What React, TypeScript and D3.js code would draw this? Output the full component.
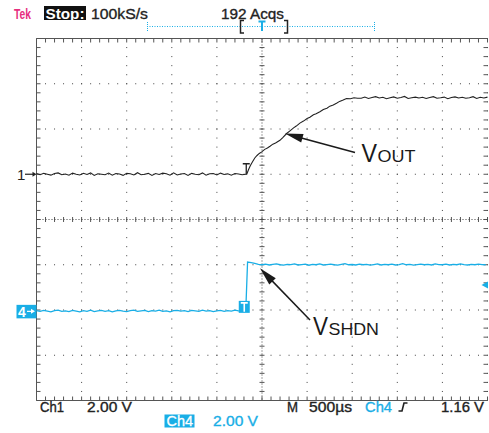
import React from "react";
import * as d3 from "d3";

// ---------- data (volts, µs) ----------
const timeDomain = [0, 5000]; // 10 div x 500 µs
const ch1Offset = 1.0; // divisions
const ch4Offset = -2.03;
const voltsPerDiv = 2;
const triggerLevel = 1.16;

// Ch1 baseline samples (step 40 µs, ending at 2320 µs)
const ch1Base = [
  0.03, -0.02, 0.04, 0.0, -0.04, 0.03, 0.06, -0.02, 0.01, -0.04,
  0.05, 0.0, -0.03, 0.04, -0.01, 0.06, -0.05, 0.02, 0.0, -0.02,
  0.05, -0.04, 0.03, 0.01, -0.05, 0.04, 0.02, -0.03, 0.07, -0.02,
  0.0, 0.04, -0.05, 0.03, -0.01, 0.05, 0.02, -0.04, 0.06, -0.03,
  0.01, 0.03, -0.05, 0.04, 0.0, -0.02, 0.06, -0.04, 0.02, 0.03,
  -0.03, 0.05, -0.01, 0.02, -0.04, 0.03, 0.01, -0.02, 0.0,
];
// Ch1 ramp points [µs, V]
const ch1Ramp: [number, number][] = [
  [2331, 0.0], [2350, 0.2], [2370, 0.38], [2395, 0.55], [2420, 0.72],
  [2445, 0.83], [2470, 0.92], [2497, 0.99], [2530, 1.1], [2560, 1.16],
  [2589, 1.24], [2620, 1.33], [2650, 1.38], [2699, 1.5], [2730, 1.62],
  [2773, 1.8], [2810, 1.92], [2850, 2.05], [2880, 2.13], [2920, 2.26],
  [2960, 2.35], [3000, 2.46], [3031, 2.52], [3070, 2.63], [3100, 2.67],
  [3142, 2.76], [3180, 2.86], [3220, 2.92], [3252, 3.01], [3290, 3.06],
  [3326, 3.14], [3360, 3.22], [3400, 3.28], [3437, 3.35], [3480, 3.34],
  [3520, 3.38], [3560, 3.36],
];
// Ch1 plateau samples (step 40 µs, starting at 3600 µs)
const ch1Top = [
  3.36, 3.41, 3.35, 3.39, 3.43, 3.37, 3.4, 3.34, 3.38, 3.42,
  3.36, 3.39, 3.44, 3.35, 3.38, 3.41, 3.37, 3.4, 3.35, 3.39,
  3.43, 3.36, 3.38, 3.41, 3.34, 3.39, 3.42, 3.37, 3.4, 3.36,
  3.38, 3.43, 3.35, 3.4, 3.37, 3.41,
];
// Ch4 low samples (step 40 µs, ending at 2320 µs)
const ch4Low = [
  0.03, 0.0, 0.04, 0.01, -0.02, 0.03, 0.05, 0.0, 0.02, -0.01,
  0.04, 0.01, -0.02, 0.03, 0.0, 0.05, -0.01, 0.02, 0.04, 0.0,
  0.03, -0.02, 0.02, 0.04, 0.01, -0.01, 0.03, 0.05, 0.0, 0.02,
  0.04, -0.01, 0.03, 0.01, 0.05, 0.0, 0.02, -0.02, 0.03, 0.04,
  0.01, 0.03, -0.01, 0.04, 0.02, 0.0, 0.05, 0.01, 0.03, -0.01,
  0.02, 0.04, 0.0, 0.03, 0.01, 0.05, 0.02, 0.0, 0.03,
];
// Ch4 high samples (step 40 µs, starting at 2340 µs)
const ch4High = [
  2.18, 2.15, 2.12, 2.08, 2.06, 2.09, 2.05, 2.08, 2.1, 2.06,
  2.04, 2.08, 2.07, 2.1, 2.05, 2.07, 2.09, 2.04, 2.08, 2.06,
  2.1, 2.05, 2.07, 2.09, 2.06, 2.04, 2.08, 2.11, 2.06, 2.07,
  2.05, 2.09, 2.06, 2.08, 2.04, 2.07, 2.1, 2.05, 2.08, 2.06,
  2.09, 2.05, 2.07, 2.11, 2.06, 2.08, 2.04, 2.07, 2.09, 2.06,
  2.08, 2.05, 2.1, 2.07, 2.06, 2.09, 2.05, 2.08, 2.06, 2.1,
  2.07, 2.05, 2.08, 2.06, 2.09, 2.07, 2.06,
];
const sampleStep = 40;
const ch1BaseEnd = 2320;
const ch1TopStart = 3600;
const ch4LowEnd = 2320;
const ch4HighStart = 2340;

// annotations anchored to data
const voutTip: [number, number] = [2755, 1.8];
const vshdnTip: [number, number] = [2478, 1.9];

const header = { tek: "Tek", stop: "Stop:", rate: "100kS/s", acqs: "192 Acqs" };
const footer1 = { ch1: "Ch1", ch1v: "2.00 V", m: "M", tb: "500µs", trigCh: "Ch4", trigV: "1.16 V" };
const footer2 = { ch4: "Ch4", ch4v: "2.00 V" };

const CYAN = "#19aee6";
const MAGENTA = "#e6307f";
const FONT = "'Liberation Sans', Arial, Helvetica, sans-serif";

export default function App() {
  const W = 489, H = 433;
  const left = 36.5, right = 487.5, top = 38.5, bottom = 400.5;
  const xdiv = d3.scaleLinear().domain([0, 10]).range([left, right]);
  const ydiv = d3.scaleLinear().domain([-4, 4]).range([bottom, top]);
  const x = d3.scaleLinear().domain(timeDomain).range([left, right]);
  const y1 = (v: number) => ydiv(ch1Offset + v / voltsPerDiv);
  const y4 = (v: number) => ydiv(ch4Offset + v / voltsPerDiv);

  const ch1Pts: [number, number][] = [
    ...ch1Base.map((v, i) => [ch1BaseEnd - (ch1Base.length - 1 - i) * sampleStep, v] as [number, number]),
    ...ch1Ramp,
    ...ch1Top.map((v, i) => [ch1TopStart + i * sampleStep, v] as [number, number]),
  ];
  const ch4Pts: [number, number][] = [
    ...ch4Low.map((v, i) => [ch4LowEnd - (ch4Low.length - 1 - i) * sampleStep, v] as [number, number]),
    ...ch4High.map((v, i) => [ch4HighStart + i * sampleStep, v] as [number, number]),
  ];
  const line1 = d3.line<[number, number]>().x((d) => x(d[0])).y((d) => y1(d[1]));
  const line4 = d3.line<[number, number]>().x((d) => x(d[0])).y((d) => y4(d[1]));

  const gridDot = "#444";
  const tickCol = "#555";

  const minorX = d3.range(0, 51).map((k) => xdiv(k / 5));
  const minorY = d3.range(0, 41).map((k) => ydiv(-4 + k / 5));
  const dots: JSX.Element[] = [];
  [1, 2, 3, 4, 6, 7, 8, 9].forEach((i) => {
    minorY.slice(1, -1).forEach((yy, k) =>
      dots.push(<rect key={`v${i}-${k}`} x={xdiv(i) - 0.5} y={yy - 0.5} width={1} height={1} fill={gridDot} />)
    );
  });
  [-3, -2, -1, 1, 2, 3].forEach((j) => {
    minorX.slice(1, -1).forEach((xx, k) =>
      dots.push(<rect key={`h${j}-${k}`} x={xx - 0.5} y={ydiv(j) - 0.5} width={1} height={1} fill={gridDot} />)
    );
  });
  minorY.forEach((yy, k) =>
    dots.push(<rect key={`r${k}`} x={right - 0.5} y={yy - 0.5} width={1} height={1} fill={gridDot} />)
  );

  const arrow = (tip: [number, number], tail: [number, number], len = 18, half = 4.5) => {
    const dx = tip[0] - tail[0], dy = tip[1] - tail[1];
    const L = Math.hypot(dx, dy);
    const ux = dx / L, uy = dy / L;
    const bx = tip[0] - ux * len, by = tip[1] - uy * len;
    const px = -uy, py = ux;
    return (
      <g>
        <line x1={tail[0]} y1={tail[1]} x2={bx + ux * 2} y2={by + uy * 2} stroke="#1a1a1a" strokeWidth={1.5} />
        <polygon
          points={`${tip[0]},${tip[1]} ${bx + px * half},${by + py * half} ${bx - px * half},${by - py * half}`}
          fill="#1a1a1a"
        />
      </g>
    );
  };

  const tip1: [number, number] = [x(voutTip[0]), y1(voutTip[1])];
  const tip2: [number, number] = [x(vshdnTip[0]), y4(vshdnTip[1])];
  const trigY = y4(triggerLevel);
  const edgeX = x(2331);
  const heavy = { stroke: "currentColor", strokeWidth: 0.35 };

  return (
    <svg width={W} height={H} style={{ position: "absolute", left: 0, top: 0, background: "#fff" }} fontFamily={FONT}>
      <rect width={W} height={H} fill="#fff" />
      {/* header */}
      <g fontSize={15.5}>
        <text x={14} y={18.5} fontWeight="bold" fill={MAGENTA} textLength={17} lengthAdjust="spacingAndGlyphs">{header.tek}</text>
        <rect x={44} y={6} width={42} height={14} fill="#111" />
        <text x={45.5} y={18.5} fontWeight="bold" fill="#fff" textLength={39} lengthAdjust="spacingAndGlyphs">{header.stop}</text>
        <text x={91} y={18.5} fill="#222" color="#222" {...heavy} textLength={57} lengthAdjust="spacingAndGlyphs">{header.rate}</text>
        <text x={221} y={18.5} fill="#222" color="#222" {...heavy} textLength={63} lengthAdjust="spacingAndGlyphs">{header.acqs}</text>
      </g>
      {/* record bar */}
      <line x1={147} x2={375} y1={26.5} y2={26.5} stroke={CYAN} strokeWidth={1} strokeDasharray="1,1.5" />
      <line x1={147.5} x2={147.5} y1={22} y2={32} stroke={CYAN} strokeWidth={1} strokeDasharray="1,1" />
      <line x1={374.5} x2={374.5} y1={22} y2={32} stroke={CYAN} strokeWidth={1} strokeDasharray="1,1" />
      <path d="M244,20.5 H240.5 V33 H244" fill="none" stroke="#222" strokeWidth={1.5} />
      <path d="M284,20.5 H287.5 V33 H284" fill="none" stroke="#222" strokeWidth={1.5} />
      <path d={`M${xdiv(5) - 3.5},21.5 H${xdiv(5) + 3.5} M${xdiv(5)},21.5 V31`} stroke={CYAN} strokeWidth={2} fill="none" />

      {/* graticule */}
      <g>{dots}</g>
      <line x1={left} x2={right} y1={top} y2={top} stroke={tickCol} strokeWidth={1} />
      <line x1={left} x2={right} y1={bottom} y2={bottom} stroke={tickCol} strokeWidth={1} />
      <line x1={left} x2={left} y1={top} y2={bottom} stroke={tickCol} strokeWidth={1} />
      {minorX.map((xx, k) => (
        <g key={`tx${k}`}>
          <line x1={xx} x2={xx} y1={top} y2={top + 4} stroke={tickCol} strokeWidth={1} />
          <line x1={xx} x2={xx} y1={bottom} y2={bottom - 4} stroke={tickCol} strokeWidth={1} />
          <line x1={xx} x2={xx} y1={ydiv(0) - 2.5} y2={ydiv(0) + 2.5} stroke={tickCol} strokeWidth={1} />
        </g>
      ))}
      {minorY.map((yy, k) => (
        <g key={`ty${k}`}>
          <line x1={left} x2={left + 4} y1={yy} y2={yy} stroke={tickCol} strokeWidth={1} />
          <line x1={right} x2={right - 4} y1={yy} y2={yy} stroke={tickCol} strokeWidth={1} />
          <line x1={xdiv(5) - 2.5} x2={xdiv(5) + 2.5} y1={yy} y2={yy} stroke={tickCol} strokeWidth={1} />
        </g>
      ))}
      <line x1={left} x2={right} y1={ydiv(0)} y2={ydiv(0)} stroke={gridDot} strokeWidth={1} strokeDasharray="1,2" />
      <line x1={xdiv(5)} x2={xdiv(5)} y1={top} y2={bottom} stroke={gridDot} strokeWidth={1} strokeDasharray="1,2" />

      {/* traces */}
      <path d={line1(ch1Pts) || ""} fill="none" stroke="#222" strokeWidth={1.1} />
      <path d={line4(ch4Pts) || ""} fill="none" stroke={CYAN} strokeWidth={1.3} />

      {/* trigger point markers */}
      <path d={`M${edgeX - 4},${y1(0) - 10.5} H${edgeX + 3} M${edgeX - 0.5},${y1(0) - 10.5} V${y1(0)}`} stroke="#222" strokeWidth={1.3} fill="none" />
      <rect x={edgeX - 8} y={y4(0) - 10.5} width={11} height={12} fill={CYAN} />
      <path d={`M${edgeX - 6},${y4(0) - 8.5} H${edgeX + 1} M${edgeX - 2.5},${y4(0) - 8.5} V${y4(0) + 0.5}`} stroke="#fff" strokeWidth={1.6} fill="none" />

      {/* channel markers */}
      <text x={17} y={y1(0) + 6} fontSize={15} fill="#222">1</text>
      <line x1={25} x2={33} y1={y1(0)} y2={y1(0)} stroke="#222" strokeWidth={1.2} />
      <polygon points={`${left},${y1(0)} ${left - 4},${y1(0) - 2.5} ${left - 4},${y1(0) + 2.5}`} fill="#222" />
      <rect x={16.5} y={y4(0) - 6.5} width={left - 16.5} height={13.5} fill={CYAN} />
      <text x={18} y={y4(0) + 5.5} fontSize={14} fontWeight="bold" fill="#fff">4</text>
      <line x1={27} x2={33} y1={y4(0)} y2={y4(0)} stroke="#fff" strokeWidth={1.2} />
      <polygon points={`${35},${y4(0)} ${31},${y4(0) - 2.5} ${31},${y4(0) + 2.5}`} fill="#fff" />
      <polygon points={`${right - 6},${trigY} ${right + 0.5},${trigY - 3.5} ${right + 0.5},${trigY + 3.5}`} fill={CYAN} />

      {/* annotations */}
      {arrow(tip1, [355, 152.5])}
      {arrow(tip2, [310, 320])}
      <text x={361.5} y={161.7} fontSize={26} fill="#1a1a1a" textLength={15.5} lengthAdjust="spacingAndGlyphs">V</text>
      <text x={377.5} y={161.7} fontSize={16.5} fill="#1a1a1a" textLength={38} lengthAdjust="spacingAndGlyphs">OUT</text>
      <text x={313} y={335} fontSize={25.5} fill="#1a1a1a" textLength={15} lengthAdjust="spacingAndGlyphs">V</text>
      <text x={328.5} y={335} fontSize={16.5} fill="#1a1a1a" textLength={50.5} lengthAdjust="spacingAndGlyphs">SHDN</text>

      {/* footer */}
      <g fontSize={14.5} fill="#222" color="#222" {...heavy}>
        <text x={40} y={412} textLength={24} lengthAdjust="spacingAndGlyphs">{footer1.ch1}</text>
        <text x={87} y={412} textLength={45} lengthAdjust="spacingAndGlyphs">{footer1.ch1v}</text>
        <text x={287} y={412} textLength={11} lengthAdjust="spacingAndGlyphs">{footer1.m}</text>
        <text x={309} y={412} textLength={43} lengthAdjust="spacingAndGlyphs">{footer1.tb}</text>
        <text x={441} y={412} textLength={43} lengthAdjust="spacingAndGlyphs">{footer1.trigV}</text>
      </g>
      <text x={365} y={412} fontSize={14.5} fill={CYAN} stroke={CYAN} strokeWidth={0.35} textLength={27} lengthAdjust="spacingAndGlyphs">{footer1.trigCh}</text>
      <path d="M398.5,411 H402 L404,403 H407.5" fill="none" stroke="#222" strokeWidth={1.6} />
      <rect x={164.5} y={414.5} width={30} height={13} fill={CYAN} />
      <text x={166.5} y={426} fontSize={14.5} fill="#fff" stroke="#fff" strokeWidth={0.3} textLength={26.5} lengthAdjust="spacingAndGlyphs">{footer2.ch4}</text>
      <text x={213} y={426} fontSize={14.5} fill={CYAN} stroke={CYAN} strokeWidth={0.35} textLength={45} lengthAdjust="spacingAndGlyphs">{footer2.ch4v}</text>
    </svg>
  );
}
